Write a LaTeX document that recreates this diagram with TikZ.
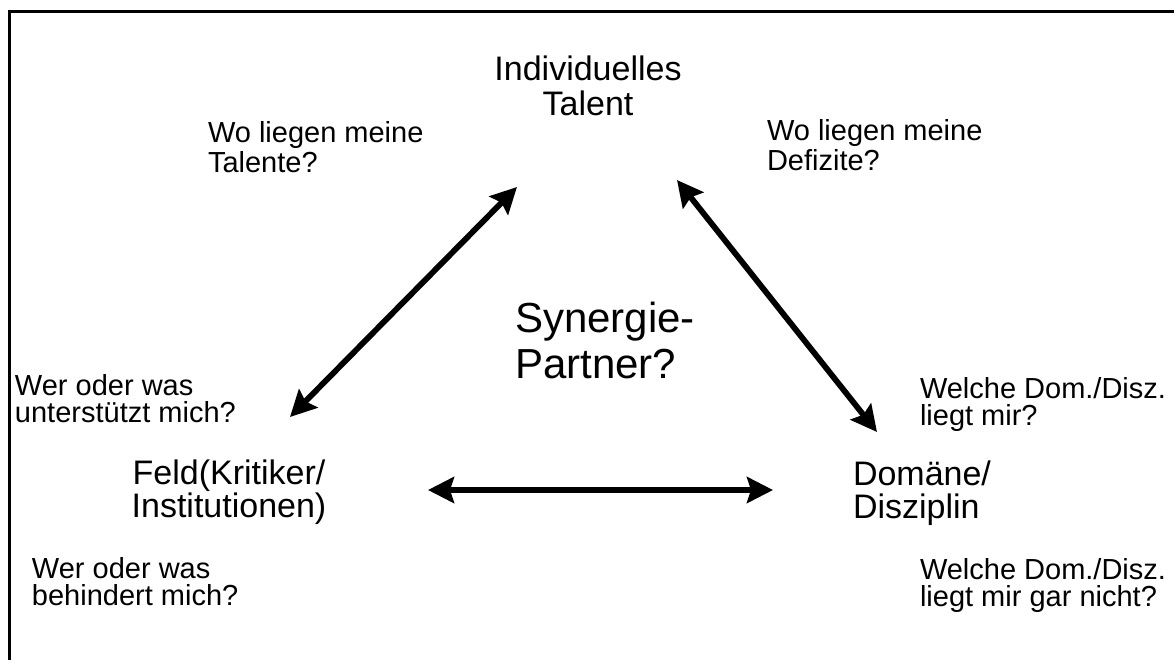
\documentclass[tikz,border=0pt]{standalone}
\usepackage{fontspec}
\setmainfont{Liberation Sans}
\usetikzlibrary{arrows.meta}

\begin{document}
\begin{tikzpicture}[x=0.5pt, y=-0.5pt, every node/.style={inner sep=0pt, outer sep=0pt}, frage/.style={anchor=base west, align=left, font=\fontsize{14.5}{13.5}\selectfont}, ecke/.style={align=center, font=\fontsize{17}{16.5}\selectfont}, pfeil/.style={line width=2.9pt, {Stealth[length=13pt, width=13pt, inset=2pt]}-{Stealth[length=13pt, width=13pt, inset=2pt]}}]
	\useasboundingbox (0,0) rectangle (1174,660);
	\draw[line width=1.5pt] (9,660) -- (9,11) -- (1174,11);
	\node[ecke, anchor=base, font=\fontsize{17}{17.5}\selectfont] (talent) at (588,115) {Individuelles\\Talent};
	\node[ecke, anchor=base] (feld) at (229,517) {Feld(Kritiker/\\Institutionen)};
	\node[ecke, anchor=base west, align=left] (domaene) at (853,518) {Domäne/\\Disziplin};
	\node[anchor=base west, align=left, font=\fontsize{21}{23}\selectfont] (synergie) at (515,378) {Synergie-\\Partner?};
	\node[frage] (talente) at (208,172) {Wo liegen meine\\Talente?};
	\node[frage] (defizite) at (767,170) {Wo liegen meine\\Defizite?};
	\node[frage] (stuetzt) at (15,422) {Wer oder was\\unterstützt mich?};
	\node[frage] (hindert) at (32,605) {Wer oder was\\behindert mich?};
	\node[frage] (liegt) at (920,425) {Welche Dom./Disz.\\liegt mir?};
	\node[frage] (liegtnicht) at (920,606) {Welche Dom./Disz.\\liegt mir gar nicht?};
	\coordinate (a1) at (290,417);
	\coordinate (a2) at (517,187);
	\coordinate (b1) at (677,180);
	\coordinate (b2) at (877,432);
	\coordinate (c1) at (428,490);
	\coordinate (c2) at (773,490);
	\foreach \s/\e in {a1/a2, b1/b2, c1/c2} {\draw[pfeil] (\s) -- (\e);}
\end{tikzpicture}
\end{document}
